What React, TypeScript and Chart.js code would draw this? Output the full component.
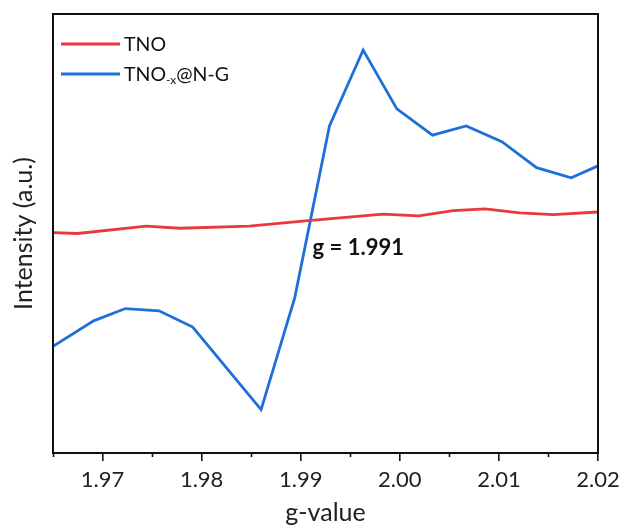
import React, { useEffect, useRef } from "react";
import { Chart, registerables } from "chart.js";

Chart.register(...registerables);

// g-values and intensities (arbitrary units)
const gBlue = [1.965, 1.9691, 1.9723, 1.9757, 1.9791, 1.986, 1.9894, 1.9929, 1.9963, 1.9997, 2.0033, 2.0067, 2.0103, 2.0138, 2.0173, 2.02];
const blueVals = [24.3, 30.1, 32.9, 32.4, 28.7, 9.9, 35.4, 74.5, 91.8, 78.4, 72.4, 74.5, 70.9, 65.0, 62.7, 65.4];

const gRed = [1.965, 1.9675, 1.9744, 1.9778, 1.9848, 1.9902, 1.9983, 2.0019, 2.0054, 2.0086, 2.0121, 2.0155, 2.02];
const redVals = [50.2, 50.0, 51.7, 51.2, 51.7, 52.8, 54.4, 54.0, 55.2, 55.6, 54.7, 54.3, 54.9];

const majorTicks = [1.97, 1.98, 1.99, 2.0, 2.01, 2.02];
const minorTicks = [1.965, 1.975, 1.985, 1.995, 2.005, 2.015];

const seriesLabels = ["TNO", "TNO-x@N-G"];
const annotationText = "g = 1.991";
const annotationPos = { g: 1.9912, v: 46.7 };

const RED = "#e8393c";
const BLUE = "#1f6fd8";
const FONT = "Lato, 'Noto Sans', sans-serif";

const boxPlugin = {
  id: "boxAndExtras",
  afterDraw(chart: any) {
    const { ctx, chartArea: a, scales } = chart;
    const x = scales.x;
    const y = scales.y;
    ctx.save();
    // frame
    ctx.strokeStyle = "#111";
    ctx.lineWidth = 2;
    ctx.strokeRect(a.left, a.top, a.right - a.left, a.bottom - a.top);
    // minor ticks
    ctx.lineWidth = 1.6;
    ctx.beginPath();
    for (const v of minorTicks) {
      const px = Math.round(x.getPixelForValue(v)) + 0.5;
      ctx.moveTo(px, a.bottom);
      ctx.lineTo(px, a.bottom + 4);
    }
    ctx.stroke();
    // legend
    const lx0 = a.left + 8;
    const lx1 = a.left + 67;
    const rows = [a.top + 30, a.top + 60];
    const colors = [RED, BLUE];
    ctx.lineWidth = 2.8;
    rows.forEach((ry, i) => {
      ctx.strokeStyle = colors[i];
      ctx.beginPath();
      ctx.moveTo(lx0, ry);
      ctx.lineTo(lx1, ry);
      ctx.stroke();
    });
    ctx.fillStyle = "#111";
    ctx.textBaseline = "alphabetic";
    ctx.textAlign = "left";
    ctx.font = `19.5px ${FONT}`;
    const tx = lx1 + 4;
    ctx.fillText(seriesLabels[0], tx, rows[0] + 7);
    // second label with subscript "-x"
    const lab = seriesLabels[1];
    const base = lab.slice(0, 3);
    const sub = lab.slice(3, 5);
    const rest = lab.slice(5);
    let cx = tx;
    ctx.fillText(base, cx, rows[1] + 7);
    cx += ctx.measureText(base).width;
    ctx.font = `12px ${FONT}`;
    ctx.fillText(sub, cx, rows[1] + 10);
    cx += ctx.measureText(sub).width;
    ctx.font = `19.5px ${FONT}`;
    ctx.fillText(rest, cx, rows[1] + 7);
    // annotation
    ctx.font = `bold 22px ${FONT}`;
    ctx.textBaseline = "middle";
    ctx.fillText(annotationText, x.getPixelForValue(annotationPos.g), y.getPixelForValue(annotationPos.v));
    ctx.restore();
  },
};

export default function App() {
  const ref = useRef<HTMLCanvasElement | null>(null);
  useEffect(() => {
    if (!ref.current) return;
    const chart = new Chart(ref.current, {
      type: "line",
      data: {
        datasets: [
          {
            label: seriesLabels[0],
            data: gRed.map((g, i) => ({ x: g, y: redVals[i] })),
            borderColor: RED,
            borderWidth: 2.8,
            pointRadius: 0,
            tension: 0,
            fill: false,
          },
          {
            label: seriesLabels[1],
            data: gBlue.map((g, i) => ({ x: g, y: blueVals[i] })),
            borderColor: BLUE,
            borderWidth: 2.8,
            pointRadius: 0,
            tension: 0,
            fill: false,
          },
        ],
      },
      options: {
        responsive: false,
        animation: false,
        layout: { padding: { top: 14, right: 29, left: 0, bottom: 0 } },
        plugins: {
          legend: { display: false },
          tooltip: { enabled: false },
        },
        scales: {
          x: {
            type: "linear",
            min: 1.965,
            max: 2.02,
            afterBuildTicks: (s: any) => {
              s.ticks = majorTicks.map((v) => ({ value: v }));
            },
            afterFit: (s: any) => {
              s.height = 77;
              s.paddingLeft = 0;
              s.paddingRight = 0;
            },
            ticks: {
              color: "#222",
              font: { family: FONT, size: 22 },
              padding: 6,
              maxRotation: 0,
              autoSkip: false,
              callback: (v: any) => Number(v).toFixed(2),
            },
            grid: {
              drawOnChartArea: false,
              drawTicks: true,
              tickLength: 8,
              color: "#111",
              lineWidth: 1.6,
            },
            border: { display: false },
            title: {
              display: true,
              text: "g-value",
              color: "#222",
              font: { family: FONT, size: 25 },
              padding: { top: 0, bottom: 2 },
            },
          },
          y: {
            type: "linear",
            min: 0,
            max: 100,
            afterFit: (s: any) => {
              s.width = 53;
            },
            ticks: { display: false },
            grid: { display: false, drawTicks: false },
            border: { display: false },
            title: {
              display: true,
              text: "Intensity (a.u.)",
              color: "#222",
              font: { family: FONT, size: 25 },
              padding: { top: 9, bottom: 0 },
            },
          },
        },
      },
      plugins: [boxPlugin],
    });
    return () => chart.destroy();
  }, []);
  return (
    <div style={{ position: "fixed", left: 0, top: 0, width: 627, height: 530, background: "#fff" }}>
      <canvas ref={ref} width={627} height={530} style={{ display: "block" }} />
    </div>
  );
}
